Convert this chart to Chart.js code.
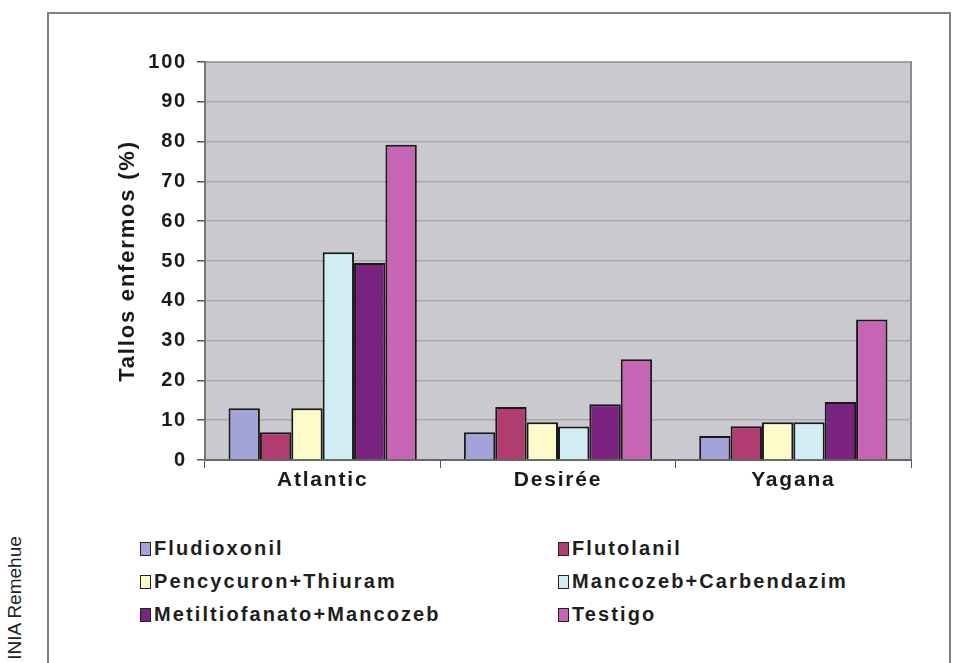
<!DOCTYPE html>
<html>
<head>
<meta charset="utf-8">
<script src="https://cdn.jsdelivr.net/npm/chart.js@4.4.1/dist/chart.umd.min.js"></script>
<style>
    body { margin: 0; background: #fff; width: 954px; height: 663px; overflow: hidden; position: relative; font-family: "Liberation Sans", Arial, sans-serif; }
    #frame { position: absolute; left: 47px; top: 12px; width: 904px; height: 700px; border: 2px solid #808080; box-sizing: border-box; }
    #chart { position: absolute; left: 0; top: 0; }
    #credit { position: absolute; left: 15px; top: 598px; transform: translate(-50%, -50%) rotate(-90deg); font-size: 19px; color: #222; white-space: nowrap; }
    #legend { position: absolute; left: 140px; top: 532px; display: grid; grid-template-columns: 418px 380px; grid-auto-rows: 33px; }
    .item { display: flex; align-items: center; font-weight: bold; font-size: 20px; letter-spacing: 2.1px; color: #1e1e1e; }
    .box { width: 9px; height: 12px; border: 1px solid #222; margin-right: 3px; }
</style>
</head>
<body>
<div id="frame"></div>
<canvas id="chart" width="954" height="510"></canvas>
<div id="credit">INIA Remehue</div>
<div id="legend"></div>
<script>
document.addEventListener('DOMContentLoaded', () => {
    const categories = ['Atlantic', 'Desirée', 'Yagana'];
    const treatments = ['Fludioxonil', 'Flutolanil', 'Pencycuron+Thiuram', 'Mancozeb+Carbendazim', 'Metiltiofanato+Mancozeb', 'Testigo'];
    const fludioxonil = [13, 7, 6];
    const flutolanil = [7, 13.3, 8.5];
    const pencycuron = [13, 9.5, 9.5];
    const mancozebCarb = [52.2, 8.4, 9.5];
    const metiltiofanato = [49.5, 14, 14.6];
    const testigo = [79.2, 25.3, 35.3];
    const yTicks = [0, 10, 20, 30, 40, 50, 60, 70, 80, 90, 100];

    const colors = ['#a3a3da', '#b13c72', '#fdfbc9', '#d2ecf4', '#7b2381', '#c565b3'];
    const seriesValues = [fludioxonil, flutolanil, pencycuron, mancozebCarb, metiltiofanato, testigo];

    // gray plot background like the old Excel charts
    const plotBg = {
        id: 'plotBg',
        beforeDraw(chart) {
            const { ctx, chartArea: a } = chart;
            ctx.save();
            ctx.fillStyle = '#cacace';
            ctx.fillRect(a.left, a.top, a.right - a.left, a.bottom - a.top);
            ctx.strokeStyle = '#8c8c90';
            ctx.lineWidth = 2;
            ctx.strokeRect(a.left, a.top, a.right - a.left, a.bottom - a.top);
            ctx.restore();
            ctx.letterSpacing = '1.8px';
        }
    };

    const chart = new Chart(document.getElementById('chart'), {
        type: 'bar',
        data: {
            labels: categories,
            datasets: treatments.map((name, i) => ({
                label: name,
                data: seriesValues[i],
                backgroundColor: colors[i],
                borderColor: '#1a1a1a',
                borderWidth: 2,
                borderSkipped: 'bottom',
                categoryPercentage: 0.8,
                barPercentage: 1
            }))
        },
        options: {
            responsive: false,
            animation: false,
            devicePixelRatio: 1,
            layout: { padding: { left: 106, right: 43, top: 62, bottom: 10 } },
            plugins: {
                legend: { display: false },
                tooltip: { enabled: false }
            },
            scales: {
                x: {
                    grid: { drawOnChartArea: false, tickLength: 8, tickColor: '#555', offset: true },
                    border: { color: '#666', width: 2 },
                    ticks: { color: '#1a1a1a', font: { family: 'Liberation Sans', size: 21, weight: 'bold' }, padding: 0 },
                    afterFit(scale) { scale.height = 40; }
                },
                y: {
                    min: 0,
                    max: 100,
                    afterBuildTicks(scale) { scale.ticks = yTicks.map(v => ({ value: v })); },
                    grid: { color: '#a9a9ad', lineWidth: 1.5, tickLength: 8, tickColor: '#555' },
                    border: { color: '#777', width: 2 },
                    ticks: { color: '#1a1a1a', font: { family: 'Liberation Sans', size: 20, weight: 'bold' }, padding: 10 },
                    title: {
                        display: true,
                        text: 'Tallos enfermos (%)',
                        color: '#1a1a1a',
                        font: { family: 'Liberation Sans', size: 22, weight: 'bold' },
                        padding: { top: 9, bottom: 4 }
                    },
                    afterFit(scale) { scale.width = 99; }
                }
            }
        },
        plugins: [plotBg]
    });

    // legend in two columns, built from the chart's own legend items
    const legend = document.getElementById('legend');
    chart.options.plugins.legend.labels.generateLabels(chart).forEach(item => {
        const div = document.createElement('div');
        div.className = 'item';
        div.innerHTML = '<span class="box" style="background:' + item.fillStyle + '"></span>' + item.text;
        legend.appendChild(div);
    });
});
</script>
</body>
</html>
